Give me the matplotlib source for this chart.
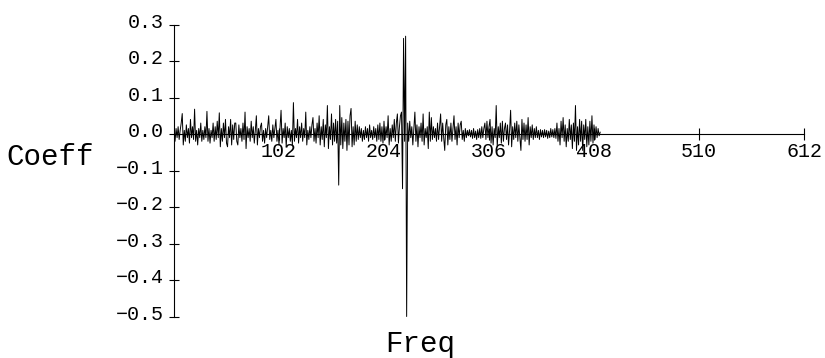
import numpy as np
import matplotlib
matplotlib.use("Agg")
import matplotlib.pyplot as plt
from matplotlib.transforms import ScaledTranslation

# Fourier coefficients, one per frequency bin
coeff = [
    0.01, -0.02, 0.015, -0.01, 0.02, -0.015, 0.01, 0.03, 0.056, -0.03, 0.01, -0.02, 0.025, -0.01, 0.015, -0.025, 0.04, -0.01, 0.02, -0.015,
    0.068, -0.02, 0.01, -0.03, 0.015, -0.01, 0.03, -0.02, 0.01, -0.015, 0.02, -0.01, 0.062, -0.02, 0.015, -0.025, 0.01, -0.01, 0.03, -0.02,
    0.02, -0.015, 0.035, -0.01, 0.058, -0.035, 0.015, -0.02, 0.03, -0.01, 0.04, -0.025, -0.035, 0.02, -0.01, 0.04, -0.03, 0.025, -0.015, 0.03,
    0.03, -0.02, -0.03, 0.025, -0.01, 0.015, -0.02, 0.03, -0.015, 0.06, -0.04, 0.02, -0.01, 0.015, -0.02, 0.035, -0.01, 0.02, -0.025, 0.01,
    0.05, -0.03, 0.015, -0.01, 0.02, 0.03, -0.02, 0.01, -0.025, 0.015, -0.01, 0.02, 0.05, -0.015, 0.01, -0.02, 0.025, -0.01, 0.015, 0.04,
    -0.02, 0.01, -0.03, 0.02, 0.065, -0.025, 0.015, -0.01, 0.03, -0.035, 0.02, -0.01, 0.015, -0.02, 0.01, -0.03, 0.086, -0.02, 0.015, -0.01,
    0.04, -0.025, 0.02, -0.01, 0.03, -0.02, 0.015, -0.01, 0.06, -0.03, 0.01, -0.015, 0.02, -0.01, 0.025, 0.045, -0.02, 0.015, -0.025, 0.03,
    -0.01, 0.05, -0.03, 0.02, -0.015, 0.04, -0.035, 0.025, -0.01, 0.078, -0.04, 0.02, -0.015, 0.055, -0.03, 0.03, -0.02, 0.04, -0.025, 0.035,
    -0.14, 0.078, -0.03, 0.045, -0.04, 0.03, -0.02, 0.04, -0.045, 0.035, -0.03, 0.05, 0.07, -0.035, 0.02, -0.03, 0.035, -0.02, 0.025, -0.015,
    0.02, -0.01, 0.015, -0.02, 0.01, -0.015, 0.02, -0.01, 0.015, -0.02, 0.025, -0.01, 0.01, -0.015, 0.02, -0.01, 0.015, -0.02, 0.025, -0.015,
    0.03, -0.02, 0.02, -0.025, 0.035, -0.015, 0.02, -0.01, 0.05, -0.03, 0.015, -0.02, 0.025, -0.01, 0.04, -0.02, 0.03, 0.055, -0.025, 0.02,
    0.05, 0.06, -0.15, 0.262, -0.02, 0.268, -0.5, 0.03, -0.02, 0.035, -0.01, 0.02, -0.03, 0.015, 0.06, -0.02, 0.025, -0.035, 0.02, -0.01,
    0.03, -0.02, 0.055, -0.03, 0.015, -0.01, 0.02, -0.04, 0.06, -0.02, 0.045, -0.015, 0.02, -0.01, 0.015, -0.02, 0.03, -0.015, 0.02, 0.055,
    -0.02, 0.03, -0.01, -0.045, 0.025, 0.04, -0.03, 0.02, -0.015, 0.03, -0.02, 0.015, 0.05, -0.015, 0.02, -0.03, 0.03, -0.01, 0.025, 0.035,
    -0.015, 0.01, -0.02, 0.015, -0.01, 0.01, -0.005, 0.012, -0.008, 0.01, -0.012, 0.015, -0.01, 0.008, -0.015, 0.012, -0.01, 0.015, -0.012, 0.02,
    -0.01, 0.015, 0.03, -0.015, 0.035, -0.01, 0.02, 0.04, -0.025, 0.02, -0.03, 0.015, -0.01, 0.078, -0.035, 0.02, -0.01, 0.03, -0.025, 0.035,
    -0.02, 0.015, 0.03, -0.015, 0.025, -0.03, 0.01, 0.065, -0.035, 0.02, -0.015, 0.03, -0.01, 0.035, -0.02, 0.025, -0.01, -0.045, 0.04, -0.015,
    0.03, -0.02, 0.025, -0.015, 0.045, -0.03, 0.02, -0.01, 0.025, -0.015, 0.015, -0.01, 0.02, -0.01, 0.01, -0.015, 0.012, -0.008, 0.01, -0.01,
    0.012, -0.008, 0.01, -0.012, 0.008, -0.01, 0.015, -0.008, 0.012, -0.01, 0.015, -0.012, 0.03, -0.02, 0.015, -0.03, 0.035, -0.01, 0.045, -0.02,
    0.025, -0.035, 0.015, -0.02, 0.04, -0.015, 0.025, -0.04, 0.03, -0.02, 0.078, -0.045, 0.02, -0.03, 0.04, -0.02, 0.035, -0.045, 0.025, -0.015,
    0.04, -0.035, 0.02, -0.03, 0.035, -0.02, 0.05, -0.025, 0.025, -0.015, 0.02, -0.01, 0.015, -0.005, 0.005,
]
freq = np.arange(len(coeff))

x_ticks = [102, 204, 306, 408, 510, 612]
y_ticks = [-0.5, -0.4, -0.3, -0.2, -0.1, 0.0, 0.1, 0.2, 0.3]
y_labels = [f"{v:.1f}".replace("-", "\u2212") for v in y_ticks]

plt.rcParams["font.family"] = ["Liberation Mono", "DejaVu Sans Mono"]

W, H = 825, 358
fig = plt.figure(figsize=(W / 100, H / 100), dpi=100)
ax = fig.add_axes([174 / W, 1 - 316.5 / H, 630 / W, 292 / H])

ax.plot(freq, coeff, color="black", lw=0.7)

ax.set_xlim(0, 612)
ax.set_ylim(-0.5, 0.3)

# axes cross at the origin
for side in ("top", "right"):
    ax.spines[side].set_visible(False)
ax.spines["left"].set_position(("data", 0))
ax.spines["bottom"].set_position(("data", 0))
for side in ("left", "bottom"):
    ax.spines[side].set_linewidth(0.8)

ax.set_xticks(x_ticks)
ax.set_xticklabels([str(v) for v in x_ticks])
ax.set_yticks(y_ticks)
ax.set_yticklabels(y_labels)
ax.tick_params(axis="x", direction="inout", length=8, width=0.8, pad=2, labelsize=14.4)
ax.tick_params(axis="y", direction="inout", length=6.5, width=0.8, pad=4, labelsize=14.4)

for lab in ax.get_yticklabels():
    lab.set_transform(lab.get_transform() + ScaledTranslation(0, 3 / 72, fig.dpi_scale_trans))

fig.text(50 / W, 1 - 157 / H, "Coeff", fontsize=21, ha="center", va="center")
fig.text(420 / W, 1 - 344 / H, "Freq", fontsize=21, ha="center", va="center")

fig.savefig("out.png", dpi=100, facecolor="white")
